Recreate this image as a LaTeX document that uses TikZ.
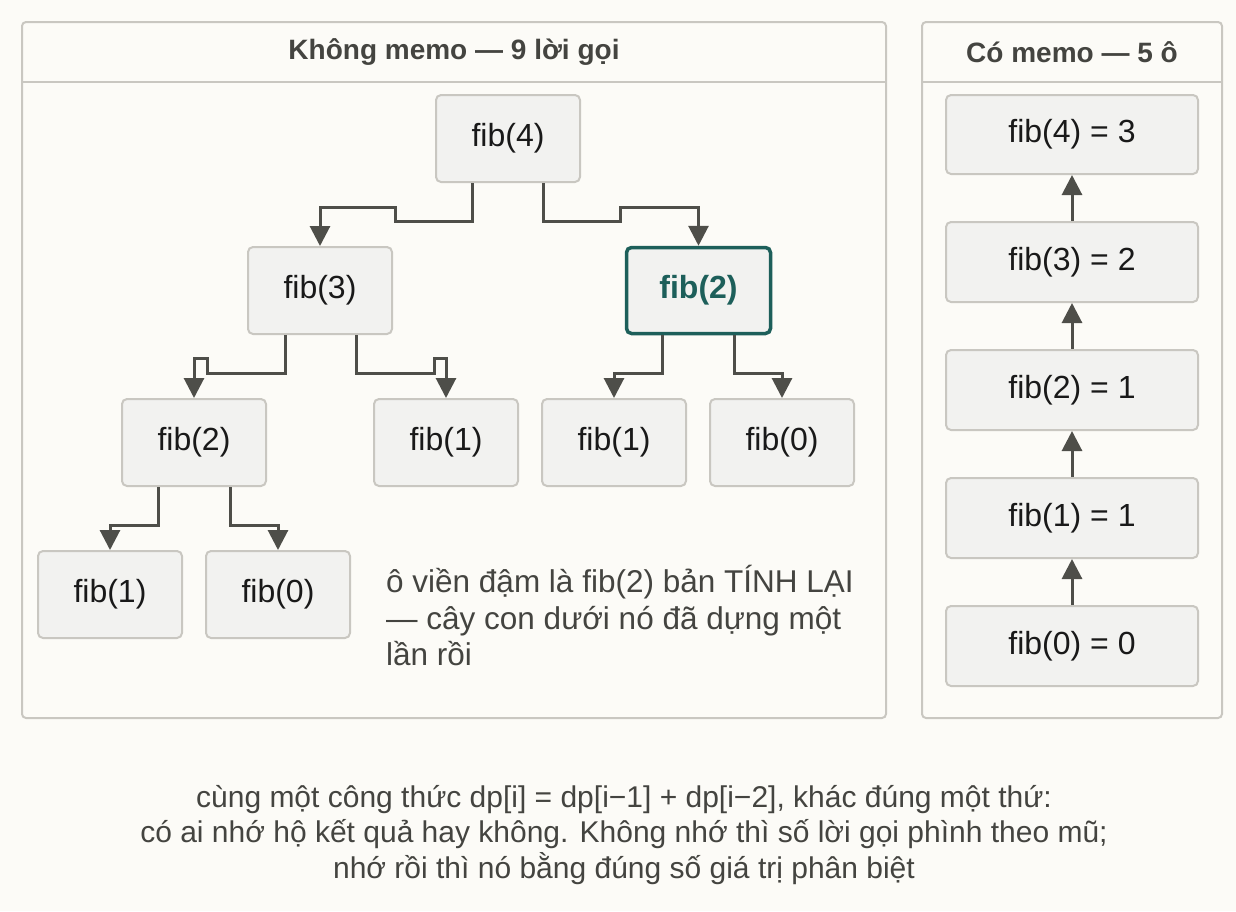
\documentclass[tikz,border=0pt]{standalone}
\usepackage{fontspec}
\setmainfont{Liberation Sans}
\usetikzlibrary{arrows.meta}
\definecolor{bg}{HTML}{FCFBF7}
\definecolor{boxfill}{HTML}{F2F2F0}
\definecolor{boxline}{HTML}{C9C7C1}
\definecolor{teal}{HTML}{1D5F5A}
\definecolor{wire}{HTML}{4E4E49}
\definecolor{txt}{HTML}{444440}
\begin{document}
\begin{tikzpicture}[x=1pt,y=-1pt,
  fibbox/.style={draw=boxline,fill=boxfill,line width=2pt,rounded corners=5pt,font=\fontsize{32}{36}\selectfont,text=black!90,inner sep=0pt},
  hot/.style={draw=teal,line width=3.5pt,text=teal,font=\fontsize{32}{36}\selectfont\bfseries},
  panel/.style={draw=boxline,line width=2pt,rounded corners=4pt},
  wirearr/.style={draw=wire,line width=3pt,-{Triangle[width=20pt,length=20pt]}}]
\fill[bg] (0,0) rectangle (1236,911);
\useasboundingbox (0,0) rectangle (1236,911);
% panels
\draw[panel] (22,22) rectangle (886,718);
\draw[boxline,line width=2pt] (22,82) -- (886,82);
\draw[panel] (922,22) rectangle (1222,718);
\draw[boxline,line width=2pt] (922,82) -- (1222,82);
\node[text=txt,font=\fontsize{28}{32}\selectfont\bfseries] (h1) at (454,52) {Không memo — 9 lời gọi};
\node[text=txt,font=\fontsize{28}{32}\selectfont\bfseries] (h2) at (1072,52) {Có memo — 5 ô};
% tree nodes
\node[fibbox,minimum width=144pt,minimum height=87pt] (a) at (508,138.5) {fib(4)};
\node[fibbox,minimum width=144pt,minimum height=87pt] (b) at (320,290.5) {fib(3)};
\node[fibbox,hot,minimum width=144pt,minimum height=86pt] (c) at (698.5,290.5) {fib(2)};
\node[fibbox,minimum width=144pt,minimum height=87pt] (d) at (194,442.5) {fib(2)};
\node[fibbox,minimum width=144pt,minimum height=87pt] (e) at (446,442.5) {fib(1)};
\node[fibbox,minimum width=144pt,minimum height=87pt] (f) at (614,442.5) {fib(1)};
\node[fibbox,minimum width=144pt,minimum height=87pt] (g) at (782,442.5) {fib(0)};
\node[fibbox,minimum width=144pt,minimum height=87pt] (h) at (110,594.5) {fib(1)};
\node[fibbox,minimum width=144pt,minimum height=87pt] (i) at (278,594.5) {fib(0)};
% connectors
\draw[wirearr] ([xshift=-36pt]a.south) |- (395,221) |- (320,207) -- (b.north);
\draw[wirearr] ([xshift=35pt]a.south) |- (620,221) |- (698.5,207) -- (c.north);
\draw[wirearr] ([xshift=-35pt]b.south) |- (207,373) |- (194,358) -- (d.north);
\draw[wirearr] ([xshift=36pt]b.south) |- (434,373) |- (446,358) -- (e.north);
\draw[wirearr] ([xshift=-36pt]c.south) |- (614,373) -- (f.north);
\draw[wirearr] ([xshift=36pt]c.south) |- (782,373) -- (g.north);
\draw[wirearr] ([xshift=-36pt]d.south) |- (110,525) -- (h.north);
\draw[wirearr] ([xshift=36pt]d.south) |- (278,525) -- (i.north);
% note
\node[anchor=north west,align=left,text=txt,font=\fontsize{31.5}{36.5}\selectfont,inner sep=0pt] (note) at (386,565) {ô viền đậm là fib(2) bản TÍNH LẠI\\— cây con dưới nó đã dựng một\\lần rồi};
% memo column
\node[fibbox,minimum width=252pt,minimum height=79pt] (m4) at (1072,134.5) {fib(4) = 3};
\node[fibbox,minimum width=252pt,minimum height=80pt] (m3) at (1072,262) {fib(3) = 2};
\node[fibbox,minimum width=252pt,minimum height=80pt] (m2) at (1072,390) {fib(2) = 1};
\node[fibbox,minimum width=252pt,minimum height=80pt] (m1) at (1072,518) {fib(1) = 1};
\node[fibbox,minimum width=252pt,minimum height=80pt] (m0) at (1072,646) {fib(0) = 0};
\draw[wirearr] (m0.north) -- (m1.south);
\draw[wirearr] (m1.north) -- (m2.south);
\draw[wirearr] (m2.north) -- (m3.south);
\draw[wirearr] (m3.north) -- (m4.south);
% caption
\node[align=center,text=txt,font=\fontsize{30}{35.5}\selectfont] (cap) at (624,835) {cùng một công thức dp[i] = dp[i−1] + dp[i−2], khác đúng một thứ:\\có ai nhớ hộ kết quả hay không. Không nhớ thì số lời gọi phình theo mũ;\\nhớ rồi thì nó bằng đúng số giá trị phân biệt};
\end{tikzpicture}
\end{document}
